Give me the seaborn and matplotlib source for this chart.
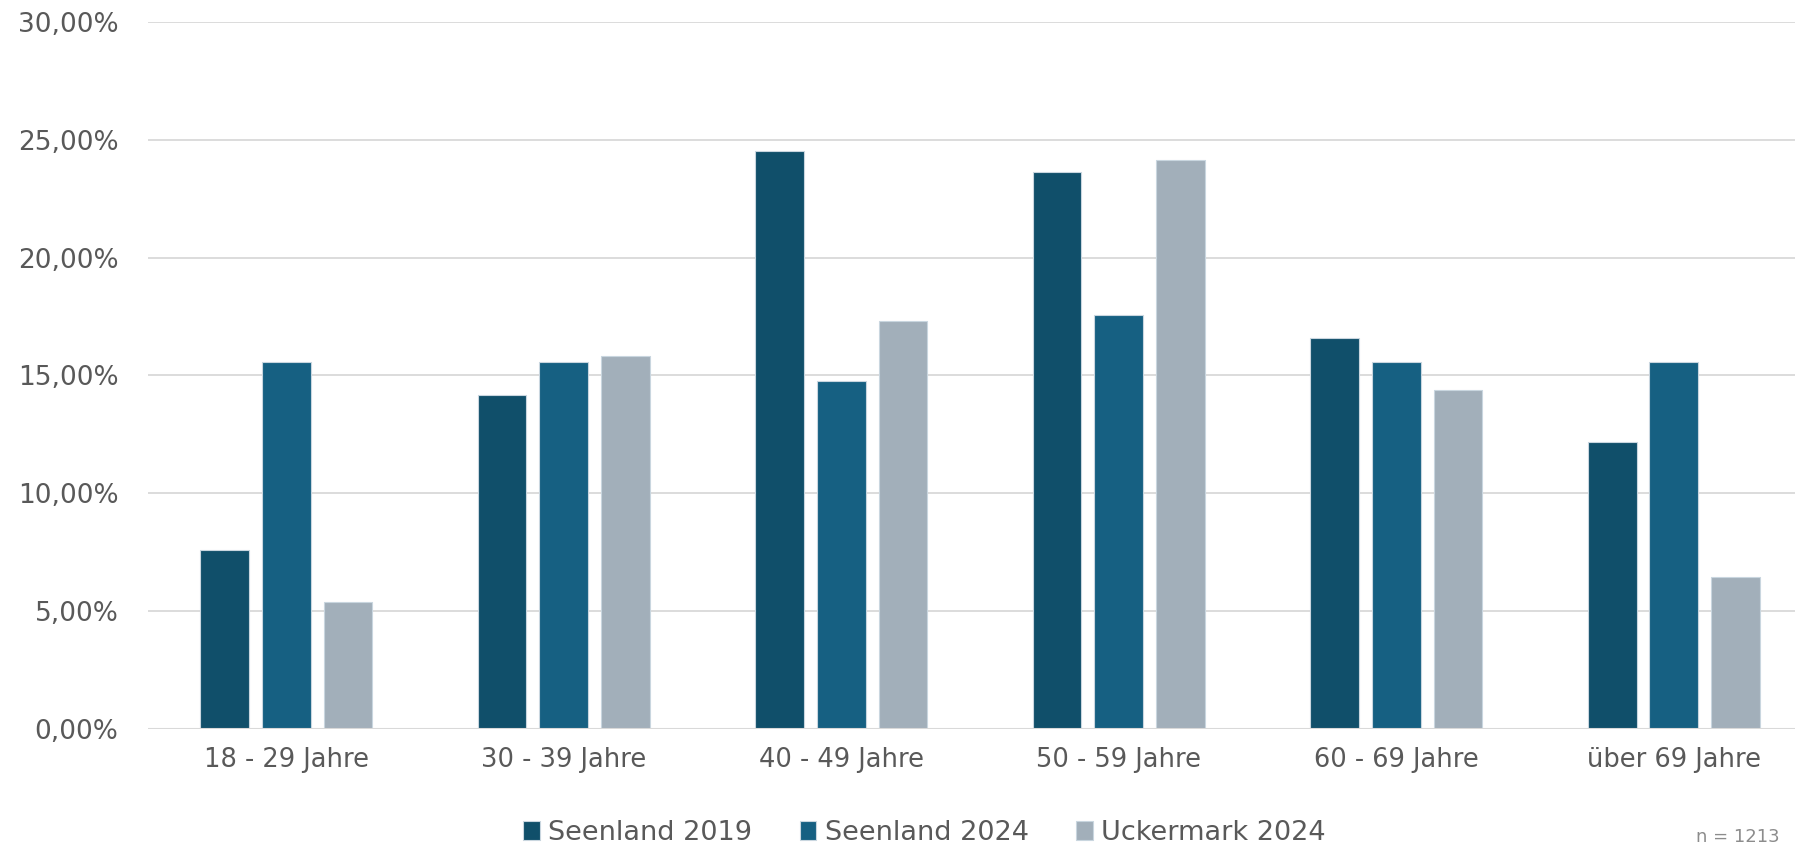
import matplotlib
matplotlib.use("Agg")
import matplotlib.pyplot as plt
import matplotlib.ticker as mticker
import seaborn as sns
import pandas as pd

# Age groups and shares per survey (in percent)
categories = ["18 - 29 Jahre", "30 - 39 Jahre", "40 - 49 Jahre",
              "50 - 59 Jahre", "60 - 69 Jahre", "über 69 Jahre"]
seenland_2019 = [7.60, 14.16, 24.53, 23.63, 16.59, 12.17]
seenland_2024 = [15.56, 15.56, 14.75, 17.57, 15.56, 15.56]
uckermark_2024 = [5.38, 15.83, 17.30, 24.14, 14.39, 6.47]
series_names = ["Seenland 2019", "Seenland 2024", "Uckermark 2024"]
colors = ["#104F6A", "#166082", "#A2AFBA"]
y_ticks = [0, 5, 10, 15, 20, 25, 30]
note = "n = 1213"

rows = []
for name, vals in zip(series_names, [seenland_2019, seenland_2024, uckermark_2024]):
    for cat, v in zip(categories, vals):
        rows.append({"Altersgruppe": cat, "Anteil": v, "Gruppe": name})
df = pd.DataFrame(rows)

sns.set_theme(style="white")
plt.rcParams["font.family"] = ["DejaVu Sans"]

fig = plt.figure(figsize=(17.95, 8.48), dpi=100)
ax = fig.add_axes([0.0822, 0.1401, 0.9276, 0.8343])

sns.barplot(data=df, x="Altersgruppe", y="Anteil", hue="Gruppe",
            order=categories, hue_order=series_names,
            palette=colors, saturation=1, width=0.667, gap=0.21,
            edgecolor="#C9D6DF", linewidth=0.8, errorbar=None, ax=ax,
            zorder=3)

ax.set_ylim(0, 30)
ax.set_xlim(-0.5, 5.5)
ax.set_yticks(y_ticks)
ax.yaxis.set_major_formatter(mticker.FuncFormatter(
    lambda v, p: f"{v:.2f}".replace(".", ",") + "%"))
ax.grid(axis="y", color="#D9D9D9", linewidth=1.3, zorder=0)
ax.grid(axis="x", visible=False)
for s in ax.spines.values():
    s.set_visible(False)
ax.axhline(0, color="#D9D9D9", linewidth=1.5, zorder=4)

ax.tick_params(axis="y", length=0, pad=21, labelsize=19, labelcolor="#595959")
ax.tick_params(axis="x", length=0, pad=13, labelsize=18.5, labelcolor="#595959")
ax.set_xlabel("")
ax.set_ylabel("")

handles, labels = ax.get_legend_handles_labels()
ax.legend_.remove()
fig.legend(handles, labels, loc="center", bbox_to_anchor=(0.515, 0.018),
           ncol=3, frameon=False, handlelength=0.62, handleheight=0.7,
           handletextpad=0.3, columnspacing=1.75,
           prop={"family": ["Liberation Sans Narrow", "DejaVu Sans"], "size": 19.5},
           labelcolor="#595959")

fig.text(0.945, 0.002, note, ha="left", va="bottom", fontsize=13, color="#8C8C8C")

fig.savefig("out.png", dpi=100)
